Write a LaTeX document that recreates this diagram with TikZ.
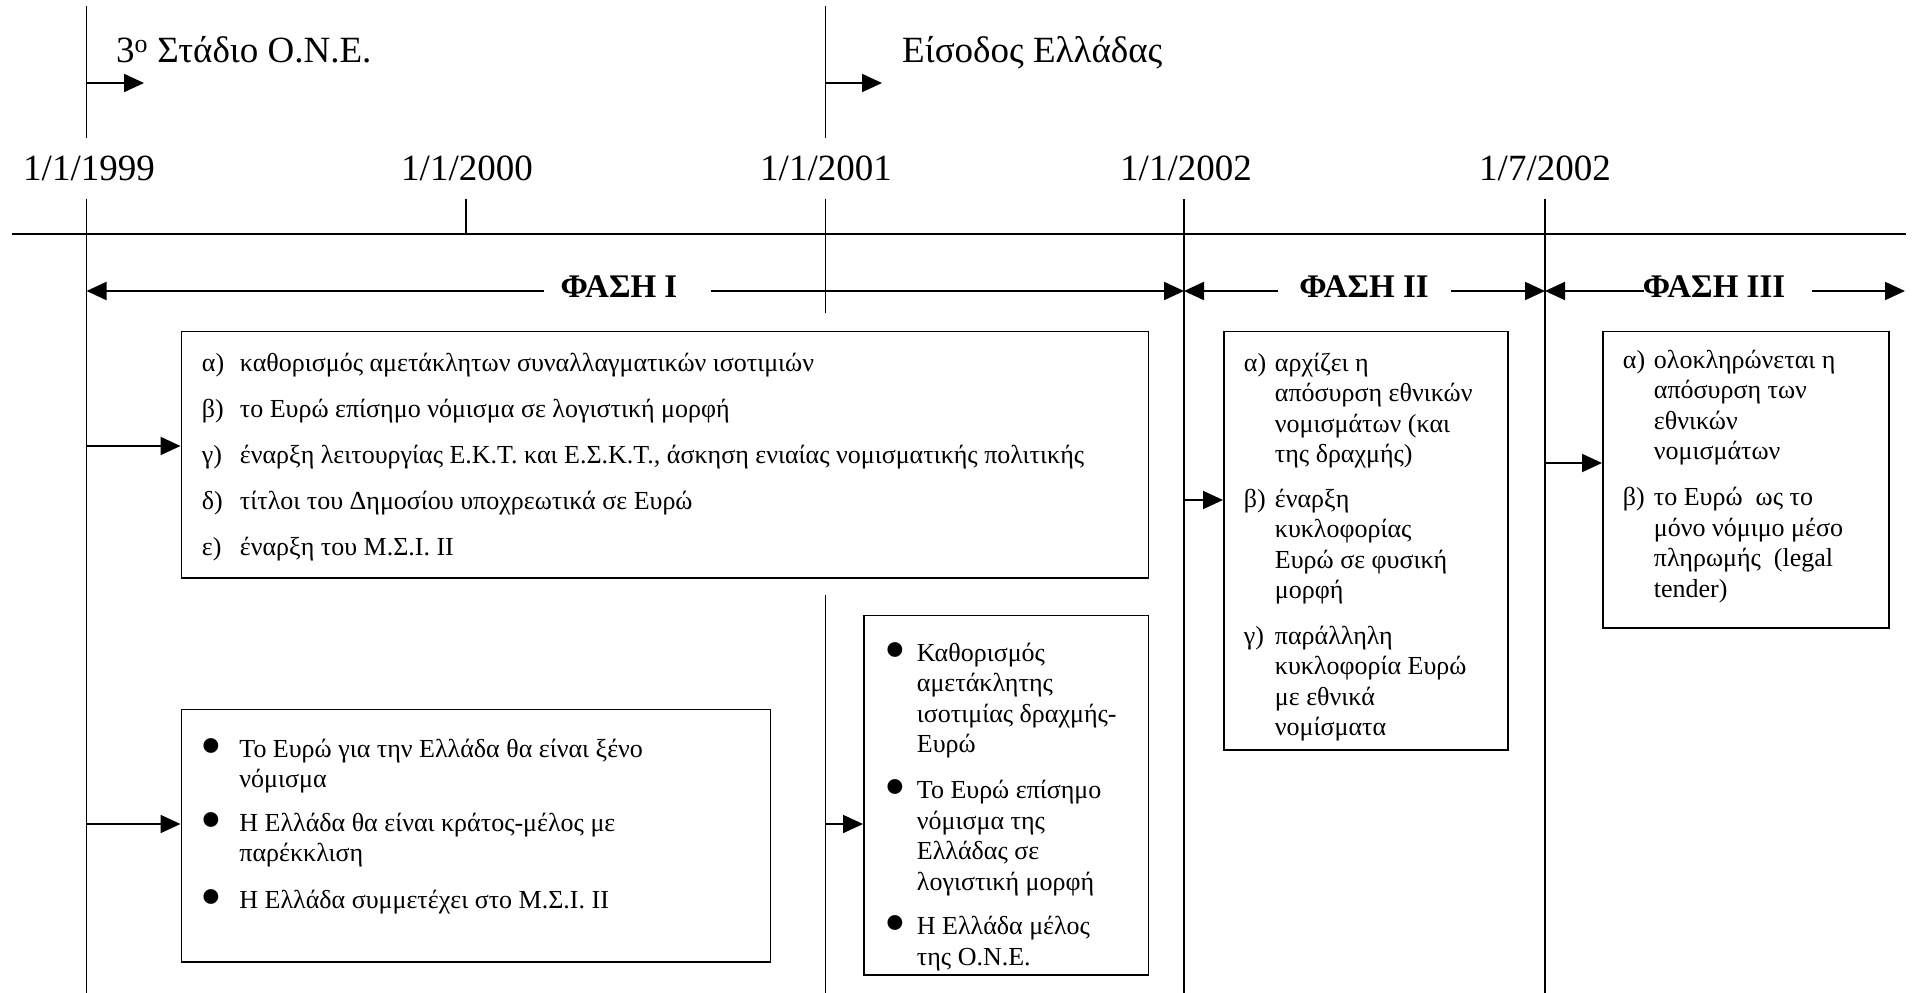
\documentclass[tikz,border=0pt]{standalone}
\usepackage{fontspec}
\setmainfont{Liberation Serif}
\usetikzlibrary{arrows.meta}
\newcommand\bx[4]{\begin{minipage}[t][#2pt][t]{#1pt}\vspace*{#3pt}\par\noindent #4\end{minipage}}
\newcommand\bul{\raisebox{-9pt}[0pt][0pt]{\fontsize{62}{0}\selectfont •}}
\begin{document}
\begin{tikzpicture}[x=1pt,y=-1pt,
  tl/.style={line width=1.5pt},
  hl/.style={line width=2pt},
  arr/.style={line width=2pt,-{Triangle[length=20pt,width=18pt]}},
  boxst/.style={draw,line width=1.8pt,inner sep=0pt,anchor=north west,font=\fontsize{26}{30.5}\selectfont},
  date/.style={font=\fontsize{37}{44}\selectfont,anchor=base,inner sep=0pt},
  toplab/.style={font=\fontsize{37}{44}\selectfont,anchor=base west,inner sep=0pt},
  phase/.style={font=\fontsize{33}{38}\selectfont\bfseries,anchor=base,inner sep=0pt}]
\useasboundingbox (0,0) rectangle (1912,993);
% timeline coordinates
\coordinate (h0) at (12,234); \coordinate (h1) at (1906,234);
\coordinate (v99a) at (86.5,6);  \coordinate (v99b) at (86.5,138);
\coordinate (v99c) at (86.5,199); \coordinate (v99d) at (86.5,993);
\coordinate (v00c) at (466,199); \coordinate (v00d) at (466,234);
\coordinate (v01a) at (825.5,6);  \coordinate (v01b) at (825.5,138);
\coordinate (v01c) at (825.5,199); \coordinate (v01d) at (825.5,313);
\coordinate (v01e) at (825.5,595); \coordinate (v01f) at (825.5,993);
\coordinate (v02c) at (1184,199); \coordinate (v02d) at (1184,993);
\coordinate (v7c) at (1545,199); \coordinate (v7d) at (1545,993);
\draw[hl] (h0) -- (h1);
\draw[tl] (v99a) -- (v99b) (v99c) -- (v99d) (v00c) -- (v00d)
  (v01a) -- (v01b) (v01c) -- (v01d) (v01e) -- (v01f)
  (v02c) -- (v02d) (v7c) -- (v7d);
% top labels
\node[toplab] (s3) at (116,62) {3\textsuperscript{o} Στάδιο Ο.Ν.Ε.};
\node[toplab] (eis) at (902,62) {Είσοδος Ελλάδας};
\coordinate (sa0) at (86.5,83); \coordinate (sa1) at (144,83);
\coordinate (ea0) at (825.5,83); \coordinate (ea1) at (882,83);
\draw[arr] (sa0) -- (sa1);
\draw[arr] (ea0) -- (ea1);
% dates
\node[date] (d99) at (89,180) {1/1/1999};
\node[date] (d00) at (467,180) {1/1/2000};
\node[date] (d01) at (826,180) {1/1/2001};
\node[date] (d02) at (1186,180) {1/1/2002};
\node[date] (d7) at (1545,180) {1/7/2002};
% phases
\node[phase] (p1) at (619,297) {ΦΑΣΗ Ι};
\node[phase] (p2) at (1364,297) {ΦΑΣΗ ΙΙ};
\node[phase] (p3) at (1714,297) {ΦΑΣΗ ΙΙΙ};
\coordinate (f1a) at (544,291); \coordinate (f1t) at (86.5,291);
\coordinate (f1b) at (711,291); \coordinate (f1u) at (1184,291);
\coordinate (f2a) at (1278,291); \coordinate (f2b) at (1451,291); \coordinate (f2u) at (1545,291);
\coordinate (f3a) at (1644,291); \coordinate (f3b) at (1812,291); \coordinate (f3u) at (1905,291);
\draw[arr] (f1a) -- (f1t);
\draw[arr] (f1b) -- (f1u);
\draw[arr] (f2a) -- (f1u);
\draw[arr] (f2b) -- (f2u);
\draw[arr] (f3a) -- (f2u);
\draw[arr] (f3b) -- (f3u);
% boxes
\node[boxst] (b1) at (180.5,330.5) {\bx{967}{246.5}{18.6}{\hspace*{20.5pt}\begin{tabular}[t]{@{}p{38pt}@{}l@{}}
α) & καθορισμός αμετάκλητων συναλλαγματικών ισοτιμιών\\[15.5pt]
β) & το Ευρώ επίσημο νόμισμα σε λογιστική μορφή\\[15.5pt]
γ) & έναρξη λειτουργίας Ε.Κ.Τ. και Ε.Σ.Κ.Τ., άσκηση ενιαίας νομισματικής πολιτικής\\[15.5pt]
δ) & τίτλοι του Δημοσίου υποχρεωτικά σε Ευρώ\\[15.5pt]
ε) & έναρξη του Μ.Σ.Ι. ΙΙ
\end{tabular}}};
\node[boxst] (b2) at (1223,330.5) {\bx{284}{418.5}{18.4}{\hspace*{20pt}\begin{tabular}[t]{@{}p{31pt}@{}l@{}}
α) & αρχίζει η\\
 & απόσυρση εθνικών\\
 & νομισμάτων (και\\
 & της δραχμής)\\[14pt]
β) & έναρξη\\
 & κυκλοφορίας\\
 & Ευρώ σε φυσική\\
 & μορφή\\[15pt]
γ) & παράλληλη\\
 & κυκλοφορία Ευρώ\\
 & με εθνικά\\
 & νομίσματα
\end{tabular}}};
\node[boxst] (b3) at (1602,330.5) {\bx{286}{296.5}{15.6}{\hspace*{20pt}\begin{tabular}[t]{@{}p{31pt}@{}l@{}}
α) & ολοκληρώνεται η\\
 & απόσυρση των\\
 & εθνικών\\
 & νομισμάτων\\[15.5pt]
β) & το Ευρώ\ \ ως το\\
 & μόνο νόμιμο μέσο\\
 & πληρωμής\ \ (legal\\
 & tender)
\end{tabular}}};
\node[boxst] (b4) at (180.5,708.5) {\bx{589}{252.5}{26.3}{\hspace*{19.5pt}\begin{tabular}[t]{@{}p{38.5pt}@{}l@{}}
\bul & Το Ευρώ για την Ελλάδα θα είναι ξένο\\
 & νόμισμα\\[13pt]
\bul & Η Ελλάδα θα είναι κράτος-μέλος με\\
 & παρέκκλιση\\[16pt]
\bul & Η Ελλάδα συμμετέχει στο Μ.Σ.Ι. ΙΙ
\end{tabular}}};
\node[boxst] (b5) at (863,614.6) {\bx{284.5}{359.4}{24.6}{\hspace*{20.5pt}\begin{tabular}[t]{@{}p{32.5pt}@{}l@{}}
\bul & Καθορισμός\\
 & αμετάκλητης\\
 & ισοτιμίας δραχμής-\\
 & Ευρώ\\[15.5pt]
\bul & Το Ευρώ επίσημο\\
 & νόμισμα της\\
 & Ελλάδας σε\\
 & λογιστική μορφή\\[14pt]
\bul & Η Ελλάδα μέλος\\
 & της Ο.Ν.Ε.
\end{tabular}}};
% connectors into boxes
\coordinate (a1) at (86.5,446);
\coordinate (a2) at (1184,500);
\coordinate (a3) at (1545,463);
\coordinate (a4) at (86.5,824);
\coordinate (a5) at (825.5,824);
\draw[arr] (a1) -- (a1 -| b1.west);
\draw[arr] (a2) -- (a2 -| b2.west);
\draw[arr] (a3) -- (a3 -| b3.west);
\draw[arr] (a4) -- (a4 -| b4.west);
\draw[arr] (a5) -- (a5 -| b5.west);
\end{tikzpicture}
\end{document}
